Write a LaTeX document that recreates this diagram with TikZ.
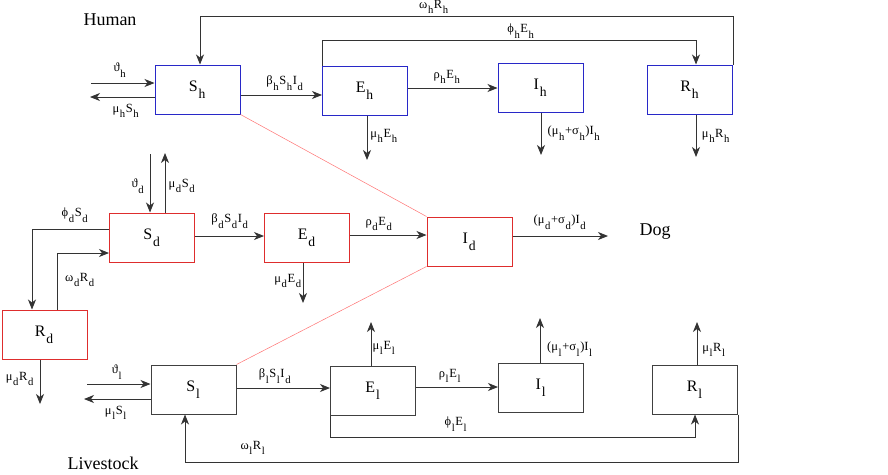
\documentclass[tikz,border=0pt]{standalone}
\usepackage{fontspec}
\usepackage{graphicx}
\setmainfont{Liberation Serif}
\usetikzlibrary{arrows.meta}
\definecolor{humanblue}{RGB}{40,40,200}
\definecolor{dogred}{RGB}{222,45,45}
\newcommand{\lo}[1]{\kern0.05em\raisebox{-0.45em}{\scalebox{0.85}{#1}}\kern0.05em}
\begin{document}
\begin{tikzpicture}[x=1pt, y=-1pt,
    box/.style={draw, line width=1pt, minimum width=85pt, minimum height=49pt, inner sep=0pt, font=\fontsize{16}{18}\selectfont},
    hbox/.style={box, draw=humanblue},
    dbox/.style={box, draw=dogred},
    lbox/.style={box, draw=black!75},
    flow/.style={line width=0.9pt, draw=black!80, -{Stealth[length=10pt,width=8pt,inset=3pt]}},
    rate/.style={font=\fontsize{12.5}{14}\selectfont, inner sep=0pt},
    contact/.style={draw=red!55, line width=0.5pt},
    group/.style={font=\fontsize{18}{20}\selectfont, inner sep=0pt}]
    \useasboundingbox (0,0) rectangle (888,474);

    % Nodes
    \node (Sh) [hbox] at (197.5,89.5) {S\lo{h}};
    \node (Eh) [hbox] at (365,90.5) {E\lo{h}};
    \node (Ih) [hbox] at (540.5,87.5) {I\lo{h}};
    \node (Rh) [hbox] at (690,89.5) {R\lo{h}};
    \node (Sd) [dbox] at (152,237.5) {S\lo{d}};
    \node (Ed) [dbox] at (307,237.5) {E\lo{d}};
    \node (Id) [dbox] at (469.5,241.5) {I\lo{d}};
    \node (Rd) [dbox] at (44.5,334.5) {R\lo{d}};
    \node (Sl) [lbox] at (193.5,389.5) {S\lo{l}};
    \node (El) [lbox] at (373,390.5) {E\lo{l}};
    \node (Il) [lbox] at (541,388) {I\lo{l}};
    \node (Rl) [lbox] at (695,389.5) {R\lo{l}};

    \node (human) [group] at (110,20) {Human};
    \node (dog) [group] at (655,232) {Dog};
    \node (livestock) [group] at (103,463.5) {Livestock};

    % Free ends
    \coordinate (hin) at (91,83);
    \coordinate (hout) at (90,97);
    \coordinate (ehd) at (367,160);
    \coordinate (ihd) at (541,155);
    \coordinate (rhd) at (696,157);
    \coordinate (din) at (150,154);
    \coordinate (dout) at (165,153);
    \coordinate (edd) at (303,303);
    \coordinate (idout) at (608,236);
    \coordinate (rdd) at (40,404);
    \coordinate (lin) at (87,384);
    \coordinate (lout) at (84,399);
    \coordinate (elu) at (371,322);
    \coordinate (ilu) at (540,318);
    \coordinate (rlu) at (697,322);

    % Edges: human
    \draw[flow] (hin) -- (hin -| Sh.west);
    \draw[flow] (Sh.west |- hout) -- (hout);
    \draw[flow] ([yshift=-5.5pt]Sh.east) -- ([yshift=-5.5pt]Sh.east -| Eh.west);
    \draw[flow] ([yshift=2.5pt]Eh.east) -- ([yshift=2.5pt]Eh.east -| Ih.west);
    \draw[flow] (Eh.south -| ehd) -- (ehd);
    \draw[flow] (Ih.south -| ihd) -- (ihd);
    \draw[flow] (Rh.south -| rhd) -- (rhd);
    \draw[flow] (Rh.north east) -- ++(0,-48) -| ([xshift=2.5pt]Sh.north);
    \draw[flow] (Eh.north west) -- ++(0,-25) -| ([xshift=6pt]Rh.north);

    % Edges: dog
    \draw[flow] (din) -- (din |- Sd.north);
    \draw[flow] (dout |- Sd.north) -- (dout);
    \draw[flow] ([yshift=1.5pt]Sd.east) -- ([yshift=1.5pt]Sd.east -| Ed.west);
    \draw[flow] ([yshift=2.5pt]Ed.east) -- ([yshift=2.5pt]Ed.east -| Id.west);
    \draw[flow] (Ed.south -| edd) -- (edd);
    \draw[flow] (Id.east |- idout) -- (idout);
    \draw[flow] ([yshift=8.5pt]Sd.west) -| ([xshift=-12.5pt]Rd.north);
    \draw[flow] ([xshift=12.5pt]Rd.north) |- ([yshift=-15.5pt]Sd.west);
    \draw[flow] (Rd.south -| rdd) -- (rdd);

    % Contacts with infected dogs
    \draw[contact] (Sh.south east) -- (Id.north west);
    \draw[contact] (Sl.north east) -- (Id.south west);

    % Edges: livestock
    \draw[flow] (lin) -- (lin -| Sl.west);
    \draw[flow] (Sl.west |- lout) -- (lout);
    \draw[flow] ([yshift=1.5pt]Sl.east) -- ([yshift=1.5pt]Sl.east -| El.west);
    \draw[flow] ([yshift=3.5pt]El.east) -- ([yshift=3.5pt]El.east -| Il.west);
    \draw[flow] (El.north -| elu) -- (elu);
    \draw[flow] (Il.north -| ilu) -- (ilu);
    \draw[flow] (Rl.north -| rlu) -- (rlu);
    \draw[flow] (El.south west) -- ++(0,22) -| (Rl.south);
    \draw[flow] (Rl.south east) -- ++(0,48) -| ([xshift=-8.5pt]Sl.south);

    % Rates
    \node (rThetaH) [rate] at (120,70) {ϑ\lo{h}};
    \node (rMuSh) [rate] at (126,111) {μ\lo{h}S\lo{h}};
    \node (rBetaH) [rate] at (285,83) {β\lo{h}S\lo{h}I\lo{d}};
    \node (rRhoH) [rate] at (447,77) {ρ\lo{h}E\lo{h}};
    \node (rPhiH) [rate] at (521,31) {ϕ\lo{h}E\lo{h}};
    \node (rOmegaH) [rate] at (434,7) {ω\lo{h}R\lo{h}};
    \node (rMuEh) [rate] at (384,136) {μ\lo{h}E\lo{h}};
    \node (rMuIh) [rate] at (574,133) {(μ\lo{h}+σ\lo{h})I\lo{h}};
    \node (rMuRh) [rate] at (716,136) {μ\lo{h}R\lo{h}};

    \node (rThetaD) [rate] at (138,186) {ϑ\lo{d}};
    \node (rMuSd) [rate] at (182,186) {μ\lo{d}S\lo{d}};
    \node (rPhiD) [rate] at (75,215) {ϕ\lo{d}S\lo{d}};
    \node (rOmegaD) [rate] at (80,280) {ω\lo{d}R\lo{d}};
    \node (rBetaD) [rate] at (230,221) {β\lo{d}S\lo{d}I\lo{d}};
    \node (rMuEd) [rate] at (288,281) {μ\lo{d}E\lo{d}};
    \node (rRhoD) [rate] at (379,224) {ρ\lo{d}E\lo{d}};
    \node (rMuId) [rate] at (560,222) {(μ\lo{d}+σ\lo{d})I\lo{d}};
    \node (rMuRd) [rate] at (20,379) {μ\lo{d}R\lo{d}};

    \node (rThetaL) [rate] at (117,372) {ϑ\lo{l}};
    \node (rMuSl) [rate] at (116,413) {μ\lo{l}S\lo{l}};
    \node (rBetaL) [rate] at (275,376) {β\lo{l}S\lo{l}I\lo{d}};
    \node (rRhoL) [rate] at (450,376) {ρ\lo{l}E\lo{l}};
    \node (rMuEl) [rate] at (384,348) {μ\lo{l}E\lo{l}};
    \node (rMuIl) [rate] at (570,349) {(μ\lo{l}+σ\lo{l})I\lo{l}};
    \node (rMuRl) [rate] at (714,350) {μ\lo{l}R\lo{l}};
    \node (rPhiL) [rate] at (456,424) {ϕ\lo{l}E\lo{l}};
    \node (rOmegaL) [rate] at (253,448) {ω\lo{l}R\lo{l}};
\end{tikzpicture}
\end{document}
